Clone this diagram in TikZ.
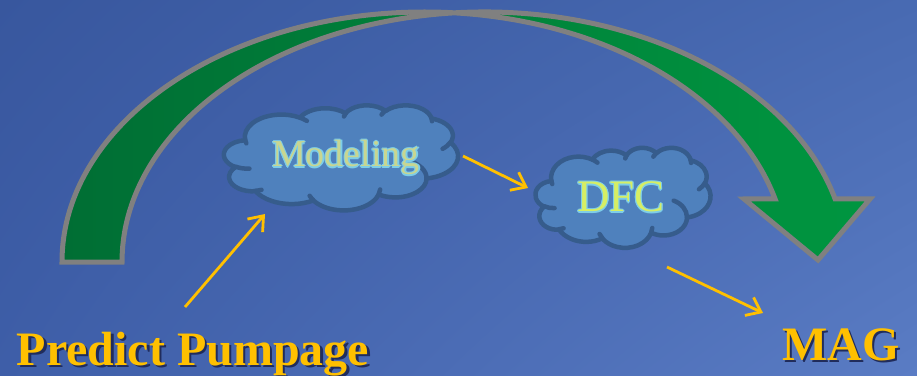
\documentclass[tikz,border=0pt]{standalone}
\usepackage{fontspec}
\setmainfont{Liberation Serif}
\newfontfamily\capfont{Liberation Serif}
\usetikzlibrary{arrows.meta,shadings}

\definecolor{bgTL}{RGB}{56,87,158}
\definecolor{bgTR}{RGB}{72,106,178}
\definecolor{bgBL}{RGB}{62,94,168}
\definecolor{bgBR}{RGB}{90,124,196}
\definecolor{arcL}{RGB}{0,110,52}
\definecolor{arcR}{RGB}{0,150,64}
\definecolor{arcEdge}{RGB}{128,128,128}
\definecolor{cloudFill}{RGB}{79,129,189}
\definecolor{cloudEdge}{RGB}{54,92,140}
\definecolor{gold}{RGB}{255,192,0}
\definecolor{goldShadow}{RGB}{32,44,92}
\definecolor{haloCyan}{RGB}{125,205,232}
\definecolor{paleFill}{RGB}{200,214,145}
\definecolor{limeFill}{RGB}{214,238,100}

% text with a thin coloured rim: #1 rim colour, #2 fill colour, #3 text
\newcommand\rimcopy[2]{\rlap{\kern#1\raisebox{#2}{\copy0}}}
\newcommand\rimtext[3]{%
  \setbox0=\hbox{#3}%
  {\color{#1}%
   \rimcopy{1.1pt}{0pt}\rimcopy{-1.1pt}{0pt}%
   \rimcopy{0pt}{1.1pt}\rimcopy{0pt}{-1.1pt}%
   \rimcopy{0.8pt}{0.8pt}\rimcopy{-0.8pt}{0.8pt}%
   \rimcopy{0.8pt}{-0.8pt}\rimcopy{-0.8pt}{-0.8pt}}%
  {\color{#2}\box0}}
% text with a drop shadow: #1 shadow colour, #2 text colour, #3 text
\newcommand\droptext[3]{%
  \setbox0=\hbox{#3}%
  \rlap{\kern2.2pt\raisebox{-2.2pt}{\color{#1}\copy0}}%
  {\color{#2}\box0}}

% elliptical arc given by radii and by the true (polar) start angle and sweep
\newcommand\cloudarc[4]{%
  \pgfextra{%
    \pgfmathsetmacro\cloudA{#3}%
    \pgfmathsetmacro\cloudB{#3+#4}%
    \pgfmathsetmacro\cloudTA{atan2((#1)*sin(\cloudA),(#2)*cos(\cloudA))}%
    \pgfmathsetmacro\cloudTB{atan2((#1)*sin(\cloudB),(#2)*cos(\cloudB))}%
    \pgfmathsetmacro\cloudTB{\cloudTB<\cloudTA ? \cloudTB+360 : \cloudTB}%
  }%
  arc[start angle=\cloudTA, end angle=\cloudTB, x radius=#1, y radius=#2]}

% cloud outline in a 432 x 432 box, y pointing down
\newcommand\cloudoutline{(39.00,143.70)
  \cloudarc{67.53}{91.90}{-190.4875}{123.7805}
  \cloudarc{53.33}{72.67}{-144.1024}{89.9452}
  \cloudarc{43.65}{59.45}{-145.8079}{99.7230}
  \cloudarc{48.57}{65.95}{-130.9861}{117.2417}
  \cloudarc{53.33}{72.73}{-78.7089}{109.0269}
  \cloudarc{67.75}{92.20}{-46.2673}{130.2690}
  \cloudarc{57.85}{78.67}{0.6250}{114.0333}
  \cloudarc{67.52}{92.15}{22.4516}{115.1726}
  \cloudarc{77.20}{105.43}{66.2426}{75.7110}
  \cloudarc{43.60}{59.18}{-274.9421}{146.7356}
  \cloudarc{43.45}{59.45}{-246.8285}{152.5189} -- cycle}
% short inner strokes where the puffs meet
\newcommand\cloudcreases{
  (46.93,261.77) \cloudarc{43.45}{59.45}{86.7420}{26.4295}
  (69.28,348.99) \cloudarc{43.60}{59.18}{73.6105}{11.4475}
  (164.78,390.90) \cloudarc{67.52}{92.15}{137.6242}{14.0811}
  (288.27,347.51) \cloudarc{67.52}{92.15}{6.4533}{15.9984}
  (341.29,229.54) \cloudarc{57.85}{78.67}{-70.2924}{70.9174}
  (417.98,153.54) \cloudarc{53.33}{72.73}{30.3180}{27.7515}
  (383.24,54.26) \cloudarc{48.57}{65.95}{-13.7443}{14.8589}
  (290.78,39.52) \cloudarc{48.57}{65.95}{-149.1815}{18.1954}
  (221.41,47.20) \cloudarc{43.65}{59.45}{-163.4943}{17.6864}
  (140.00,51.92) \cloudarc{67.53}{91.90}{-66.7070}{12.3194}
  (41.27,157.89) \cloudarc{67.53}{91.90}{157.6544}{11.8582}}

\tikzset{
  cloudline/.style={draw=cloudEdge, line width=4.5pt, line join=round, line cap=round},
  goldarrow/.style={draw=gold, line width=2.8pt,
    -{Straight Barb[length=13pt, width=20pt, line width=2.8pt]}},
  bigword/.style={inner sep=0pt, anchor=base,
    font=\fontsize{48}{54}\selectfont\bfseries},
  cloudword/.style={inner sep=0pt, anchor=base},
}

\begin{document}
\begin{tikzpicture}[x=1pt, y=1pt]
  % backdrop
  \shade[upper left=bgTL, upper right=bgTR, lower left=bgBL, lower right=bgBR]
    (0,0) rectangle (917,375);
  \useasboundingbox (0,0) rectangle (917,375);

  % big curved arrow over the process
  \path[draw=arcEdge, line width=5pt, line join=miter, left color=arcL, right color=arcR]
    (62,113) arc[start angle=180, end angle=14.6, x radius=362.4, y radius=250]
    -- (744,176) -- (818,115) -- (870,176) -- (835.1,176)
    arc[start angle=14.6, end angle=180, x radius=362.4, y radius=250] -- cycle;

  % Modeling cloud
  \begin{scope}[shift={(224,270)}, x=0.5417pt, y=-0.2431pt]
    \fill[cloudFill] \cloudoutline;
    \draw[cloudline] \cloudoutline;
    \draw[cloudline] \cloudcreases;
  \end{scope}
  % DFC cloud
  \begin{scope}[shift={(535.5,227.5)}, x=0.4051pt, y=-0.2315pt]
    \fill[cloudFill] \cloudoutline;
    \draw[cloudline] \cloudoutline;
    \draw[cloudline] \cloudcreases;
  \end{scope}

  % cloud captions
  \node[cloudword, font=\capfont\fontsize{38}{44}\selectfont] (modeltxt) at (346,208)
    {\rimtext{haloCyan}{paleFill}{Modeling}};
  \node[cloudword, font=\capfont\fontsize{45}{50}\selectfont] (dfctxt) at (621,163)
    {\rimtext{haloCyan}{limeFill}{DFC}};

  % end labels
  \node[bigword] (pump) at (193,10) {\droptext{goldShadow}{gold}{Predict Pumpage}};
  \node[bigword] (mag) at (841,15) {\droptext{goldShadow}{gold}{MAG}};

  % connector ends
  \coordinate (p1) at (185,68);
  \coordinate (m1) at (265,161);
  \coordinate (m2) at (463,219);
  \coordinate (d1) at (528,187);
  \coordinate (d2) at (667,108);
  \coordinate (g1) at (763,62);

  \draw[goldarrow] (p1) -- (m1);
  \draw[goldarrow] (m2) -- (d1);
  \draw[goldarrow] (d2) -- (g1);
\end{tikzpicture}
\end{document}
